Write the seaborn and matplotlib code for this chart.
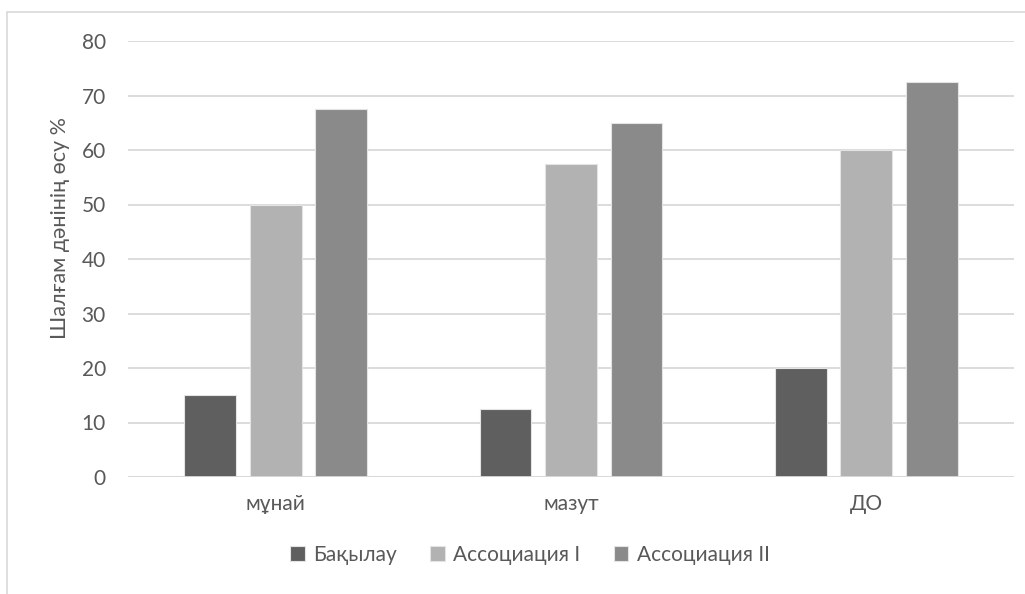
import matplotlib
matplotlib.use("Agg")
import matplotlib.pyplot as plt
import matplotlib.patches as mpatches
import seaborn as sns
import pandas as pd

categories = ["мұнай", "мазут", "ДО"]
series_names = ["Бақылау", "Ассоциация I", "Ассоциация II"]
control = [15, 12.5, 20]
assoc_1 = [50, 57.5, 60]
assoc_2 = [67.5, 65, 72.5]
y_ticks = [0, 10, 20, 30, 40, 50, 60, 70, 80]
y_label = "Шалғам дәнінің өсу %"

colors = ["#5f5f5f", "#b2b2b2", "#8a8a8a"]
text_color = "#595959"
grid_color = "#d9d9d9"

df = pd.DataFrame({
    "category": categories * 3,
    "series": [series_names[0]] * 3 + [series_names[1]] * 3 + [series_names[2]] * 3,
    "value": control + assoc_1 + assoc_2,
})

sns.set_theme(style="white")
plt.rcParams["font.family"] = ["Lato", "DejaVu Sans"]

fig = plt.figure(figsize=(10.25, 5.94), dpi=100)
ax = fig.add_axes([128 / 1025, 1 - 477 / 594, (1014 - 128) / 1025, (477 - 41) / 594])

sns.barplot(data=df, x="category", y="value", hue="series", order=categories,
            hue_order=series_names, palette=colors, width=0.666, gap=0.21,
            edgecolor="#e4e4e4", linewidth=0.8, ax=ax, legend=True, zorder=3)

ax.set_xlim(-0.5, 2.5)
ax.set_ylim(0, 80)
ax.set_yticks(y_ticks)
ax.set_yticklabels([str(t) for t in y_ticks])
ax.yaxis.grid(True, color=grid_color, linewidth=1.3, zorder=0)
ax.set_axisbelow(True)
for side in ["top", "right", "left", "bottom"]:
    ax.spines[side].set_visible(False)
ax.axhline(0, color=grid_color, linewidth=1.3, zorder=4)
ax.tick_params(axis="both", length=0, labelsize=15, colors=text_color)
ax.tick_params(axis="y", pad=16)
ax.tick_params(axis="x", pad=12)
ax.set_xlabel("")
ax.set_ylabel(y_label, fontsize=15.5, color=text_color)
ax.yaxis.set_label_coords(-0.066, 0.571)

handles, labels = ax.get_legend_handles_labels()
ax.get_legend().remove()
fig.legend(handles, labels, loc="center", bbox_to_anchor=(530 / 1025, 1 - 555 / 594),
           ncol=3, frameon=False, fontsize=15, labelcolor=text_color,
           handlelength=0.7, handleheight=0.7, handletextpad=0.4, columnspacing=1.6)

# chart area border (left and top edges visible)
fig.patches.append(mpatches.Rectangle((7 / 1025, -0.1), 1.2, 1 - 12 / 594 + 0.1,
                                      transform=fig.transFigure, fill=False,
                                      edgecolor=grid_color, linewidth=1.2))

fig.savefig("out.png", dpi=100, facecolor="white")
